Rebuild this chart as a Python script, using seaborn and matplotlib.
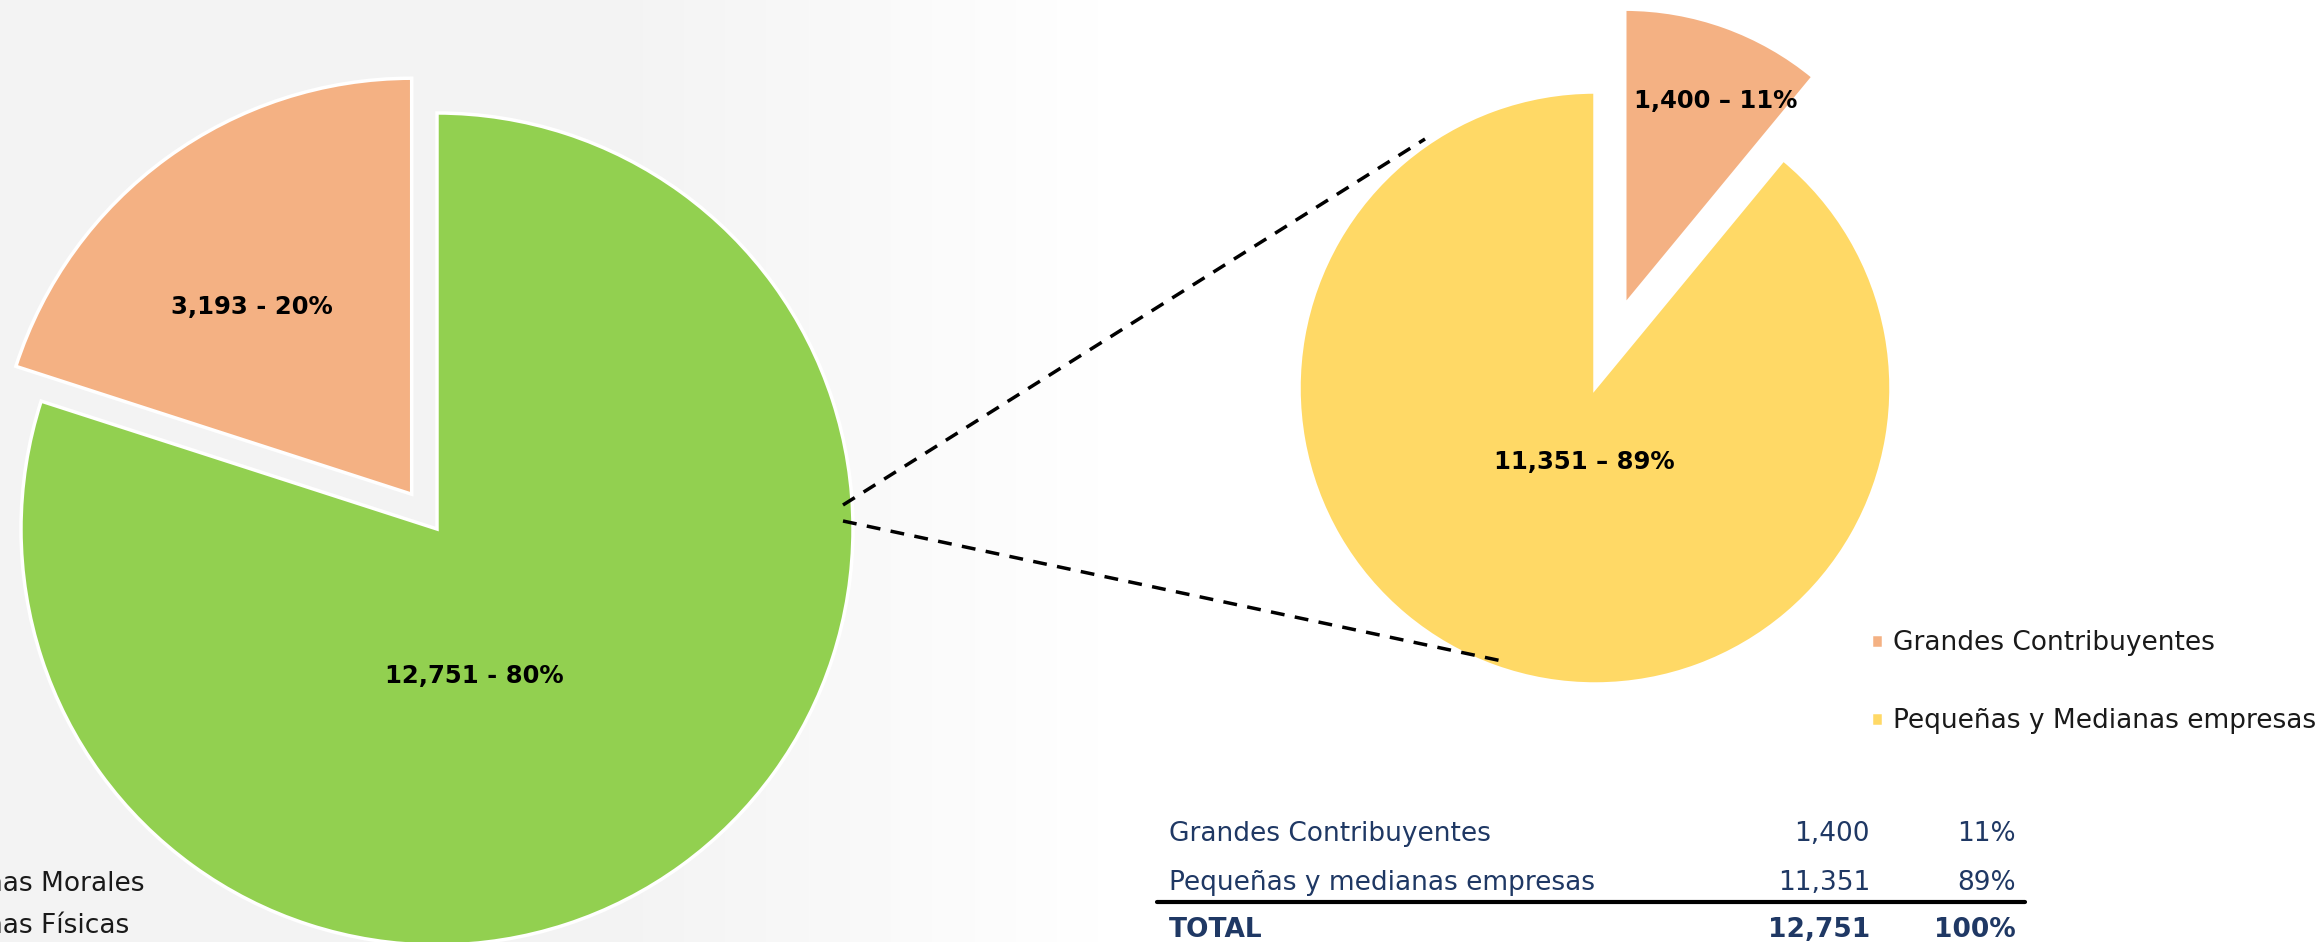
import numpy as np
import matplotlib
matplotlib.use("Agg")
import matplotlib.pyplot as plt
import seaborn as sns
from matplotlib.colors import LinearSegmentedColormap

# datos
tipos = ['Personas Morales', 'Personas Físicas']
tipos_valores = [12751, 3193]
tipos_pct = [80, 20]

morales = ['Grandes Contribuyentes', 'Pequeñas y Medianas empresas']
morales_tabla = ['Grandes Contribuyentes', 'Pequeñas y medianas empresas']
morales_valores = [1400, 11351]
morales_pct = [11, 89]

c_verde = '#92D050'
c_naranja = '#F4B183'
c_amarillo = '#FFD966'
c_azul = '#1F3864'

sns.set_theme(style="white")
plt.rcParams['font.family'] = ['DejaVu Sans']

W, H = 2323, 942
fig = plt.figure(figsize=(W / 100, H / 100), dpi=100)
ax = fig.add_axes([0, 0, 1, 1])

# fondo gris que se desvanece
grad = np.concatenate([np.zeros(600), np.linspace(0, 1, 500), np.ones(W - 1100)])[None, :]
cmap_fondo = LinearSegmentedColormap.from_list('fondo', ['#F3F3F3', '#FFFFFF'])
ax.imshow(grad, cmap=cmap_fondo, extent=(0, W, 0, H), aspect='auto', zorder=0)

# pastel grande (explode va en unidades de datos)
w1, _ = ax.pie(tipos_valores, colors=[c_verde, c_naranja], startangle=90, counterclock=False,
               explode=[0, 43], center=(437, 413), radius=416,
               wedgeprops=dict(edgecolor='white', linewidth=2.5), frame=True)

# pastel chico
w2, _ = ax.pie(morales_valores, colors=[c_naranja, c_amarillo], startangle=90, counterclock=False,
               explode=[88, 0], center=(1595, 554), radius=296,
               wedgeprops=dict(edgecolor='white', linewidth=2.5), frame=True)

# etiquetas
lbl = dict(fontsize=17.5, fontweight='bold', color='black', ha='center', va='center', zorder=5)
ax.text(474, 266, f"{tipos_valores[0]:,} - {tipos_pct[0]}%", **lbl)
ax.text(252, 635, f"{tipos_valores[1]:,} - {tipos_pct[1]}%", **lbl)
ax.text(1716, 841, f"{morales_valores[0]:,} – {morales_pct[0]}%", **lbl)
ax.text(1584, 480, f"{morales_valores[1]:,} – {morales_pct[1]}%", **lbl)

# lineas punteadas
ax.plot([843, 1425], [437, 803], color='black', lw=2.5, ls=(0, (4, 3)), zorder=4)
ax.plot([843, 1502], [421, 281], color='black', lw=2.5, ls=(0, (4, 3)), zorder=4)

# leyendas
leg1 = ax.legend(w1, tipos, loc='center right', bbox_to_anchor=(144 / W, 37 / H),
                 frameon=False, fontsize=19, labelspacing=0.61, handlelength=0.45,
                 handleheight=0.45, handletextpad=0.4, borderpad=0, borderaxespad=0,
                 labelcolor='#1a1a1a')
ax.add_artist(leg1)
ax.legend(w2, morales, loc='center left', bbox_to_anchor=(1871 / W, 260 / H),
          frameon=False, fontsize=19, labelspacing=1.97, handlelength=0.45,
          handleheight=0.45, handletextpad=0.4, borderpad=0, borderaxespad=0,
          labelcolor='#1a1a1a')

# tabla
filas_y = [108, 59]
for nombre, v, p, y in zip(morales_tabla, morales_valores, morales_pct, filas_y):
    ax.text(1169, y, nombre, fontsize=19, color=c_azul, ha='left', va='center')
    ax.text(1870, y, f"{v:,}", fontsize=19, color=c_azul, ha='right', va='center')
    ax.text(2016, y, f"{p}%", fontsize=19, color=c_azul, ha='right', va='center')
ax.plot([1157, 2025], [40, 40], color='black', lw=3)
ax.text(1169, 12, 'TOTAL', fontsize=19, color=c_azul, ha='left', va='center', fontweight='bold')
ax.text(1870, 12, f"{sum(morales_valores):,}", fontsize=19, color=c_azul, ha='right',
        va='center', fontweight='bold')
ax.text(2016, 12, f"{sum(morales_pct)}%", fontsize=19, color=c_azul, ha='right',
        va='center', fontweight='bold')

ax.set_xlim(0, W)
ax.set_ylim(0, H)
ax.set_aspect('equal')
ax.axis('off')

fig.savefig("out.png", dpi=100)
